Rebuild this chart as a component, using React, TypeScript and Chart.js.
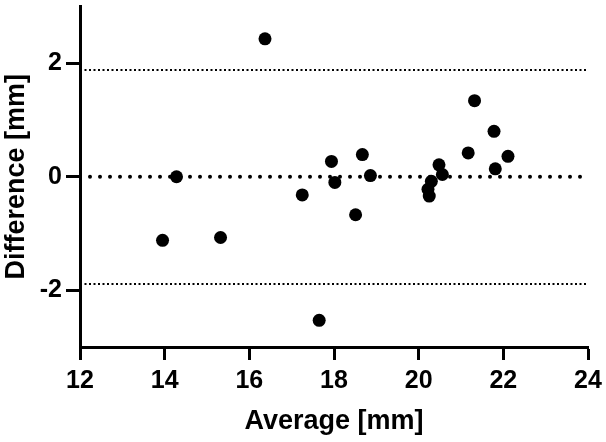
import React, { useEffect, useRef } from "react";
import { Chart, registerables } from "chart.js";

Chart.register(...registerables);

// Bland–Altman data: mean of the two measurements vs. their difference (mm)
const averageMm = [
  13.95, 14.28, 15.32, 16.37, 17.25, 17.65, 17.94, 18.02, 18.51, 18.67, 18.86,
  20.22, 20.25, 20.3, 20.48, 20.56, 21.17, 21.32, 21.78, 21.81, 22.11,
];
const differenceMm = [
  -1.12, 0.0, -1.07, 2.43, -0.32, -2.53, 0.27, -0.1, -0.67, 0.39, 0.02,
  -0.22, -0.34, -0.08, 0.21, 0.04, 0.42, 1.34, 0.8, 0.14, 0.36,
];

// Bias and 95% limits of agreement
const bias = 0;
const upperLoA = 1.88;
const lowerLoA = -1.89;

const xRange = [12, 24];
const yRange = [-3, 3];
const yTickValues = [-2, 0, 2];

const FONT = '"Liberation Sans", Arial, Helvetica, sans-serif';

export default function App() {
  const canvasRef = useRef<HTMLCanvasElement>(null);

  useEffect(() => {
    const canvas = canvasRef.current;
    if (!canvas) return;

    const points = averageMm.map((x, i) => ({ x, y: differenceMm[i] }));
    const hLine = (y: number) => [
      { x: xRange[0], y },
      { x: xRange[1], y },
    ];

    const tickFont = { family: FONT, size: 25, weight: "bold" as const };
    const titleFont = { family: FONT, size: 27, weight: "bold" as const };

    const chart = new Chart(canvas, {
      type: "scatter",
      data: {
        datasets: [
          {
            data: points,
            backgroundColor: "#000",
            borderColor: "#000",
            borderWidth: 0,
            pointRadius: 6.5,
            pointHoverRadius: 6.5,
          },
          {
            type: "line",
            data: hLine(bias),
            borderColor: "#000",
            borderWidth: 4,
            borderDash: [0, 10],
            borderCapStyle: "round",
            pointRadius: 0,
            fill: false,
          },
          {
            type: "line",
            data: hLine(upperLoA),
            borderColor: "#000",
            borderWidth: 2,
            borderDash: [2, 2.5],
            pointRadius: 0,
            fill: false,
          },
          {
            type: "line",
            data: hLine(lowerLoA),
            borderColor: "#000",
            borderWidth: 2,
            borderDash: [2, 2.5],
            pointRadius: 0,
            fill: false,
          },
        ],
      } as any,
      options: {
        animation: false,
        responsive: false,
        maintainAspectRatio: false,
        layout: { padding: { top: 5, right: 18, left: 0, bottom: 0 } },
        plugins: {
          legend: { display: false },
          tooltip: { enabled: false },
        },
        scales: {
          x: {
            type: "linear",
            min: xRange[0],
            max: xRange[1],
            ticks: { stepSize: 2, font: tickFont, color: "#000", padding: 6 },
            grid: {
              drawOnChartArea: false,
              tickLength: 13,
              tickWidth: 3,
              tickColor: "#000",
            },
            border: { width: 3, color: "#000" },
            title: {
              display: true,
              text: "Average [mm]",
              font: titleFont,
              color: "#000",
              padding: { top: 0, bottom: 4 },
            },
            afterFit: (scale: any) => {
              scale.height = 95;
              scale.paddingLeft = 0;
              scale.paddingRight = 0;
            },
          },
          y: {
            type: "linear",
            min: yRange[0],
            max: yRange[1],
            afterBuildTicks: (scale: any) => {
              scale.ticks = yTickValues.map((value) => ({ value }));
            },
            ticks: { font: tickFont, color: "#000", padding: 4 },
            grid: {
              drawOnChartArea: false,
              tickLength: 14,
              tickWidth: 3,
              tickColor: "#000",
            },
            border: { width: 3, color: "#000" },
            title: {
              display: true,
              text: "Difference [mm]",
              font: titleFont,
              color: "#000",
              padding: { top: 0, bottom: 0 },
            },
            afterFit: (scale: any) => {
              scale.width = 80;
              scale.paddingTop = 0;
              scale.paddingBottom = 0;
            },
          },
        },
      } as any,
    });

    return () => chart.destroy();
  }, []);

  return (
    <div
      style={{
        position: "fixed",
        left: 0,
        top: 0,
        width: 606,
        height: 442,
        background: "#fff",
      }}
    >
      <canvas
        ref={canvasRef}
        width={606}
        height={442}
        style={{ display: "block" }}
      />
    </div>
  );
}
